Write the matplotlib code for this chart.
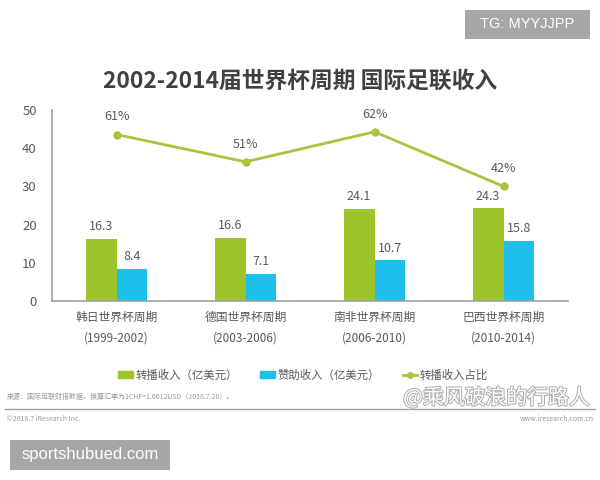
import matplotlib
matplotlib.use("Agg")
import matplotlib.pyplot as plt
import matplotlib.patheffects as pe
from matplotlib.patches import Patch, Rectangle
from matplotlib.lines import Line2D
import numpy as np

plt.rcParams['font.family'] = ['Noto Sans CJK SC', 'DejaVu Sans']

categories = ["韩日世界杯周期\n(1999-2002)", "德国世界杯周期\n(2003-2006)",
              "南非世界杯周期\n(2006-2010)", "巴西世界杯周期\n(2010-2014)"]
broadcast = [16.3, 16.6, 24.1, 24.3]
sponsor = [8.4, 7.1, 10.7, 15.8]
share = [0.61, 0.51, 0.62, 0.42]
share_labels = ["61%", "51%", "62%", "42%"]
yticks = [0, 10, 20, 30, 40, 50]

green = "#9DC52B"
blue = "#1DC0EA"
linec = "#A9C43E"
txt = "#595959"

W, H = 600, 480
fig = plt.figure(figsize=(6, 4.8), dpi=100)
ax = fig.add_axes([0.0867, 0.3729, 0.86, 0.398])
x = np.arange(len(categories))
w = 0.24
b1 = ax.bar(x - w / 2, broadcast, w, color=green)
b2 = ax.bar(x + w / 2, sponsor, w, color=blue)
for rect, v in zip(list(b1) + list(b2), broadcast + sponsor):
    ax.annotate(f"{v}", (rect.get_x() + rect.get_width() / 2, rect.get_height()),
                xytext=(0, 4), textcoords="offset points", ha="center", va="bottom",
                fontsize=9, color=txt)
ax.set_xlim(-0.5, 3.5)
ax.set_ylim(0, 50)
ax.set_yticks(yticks)
ax.set_xticks(x)
ax.set_xticklabels(categories, linespacing=1.75, fontsize=8.5)
ax.tick_params(axis="both", length=0, colors=txt)
ax.tick_params(axis="y", pad=11, labelsize=9.5)
ax.tick_params(axis="x", pad=7)
for s in ["top", "right"]:
    ax.spines[s].set_visible(False)
for s in ["left", "bottom"]:
    ax.spines[s].set_color("#A0A0A0")
    ax.spines[s].set_linewidth(1.2)

ax2 = ax.twinx()
ax2.set_ylim(0, 0.7)
ax2.axis("off")
ax2.plot(x, share, color=linec, lw=2, marker="o", markersize=5)
for xi, v, lab in zip(x, share, share_labels):
    ax2.annotate(lab, (xi, v), xytext=(0, 8), textcoords="offset points",
                 ha="center", va="bottom", fontsize=9, color=txt)

fig.text(300 / W, 1 - 81 / H, "2002-2014届世界杯周期 国际足联收入", ha="center", va="center",
         fontsize=16.4, fontweight="bold", color="#404040")

handles = [Patch(color=green), Patch(color=blue),
           Line2D([0], [0], color=linec, lw=2, marker="o", markersize=4)]
labels = ["转播收入（亿美元）", "赞助收入（亿美元）", "转播收入占比"]
leg = fig.legend(handles, labels, loc="center", bbox_to_anchor=(303 / W, 1 - 375 / H), ncol=3,
                 frameon=False, fontsize=8.2, handlelength=1.3, handleheight=0.5,
                 handletextpad=0.2, columnspacing=2.0)
for t in leg.get_texts():
    t.set_color(txt)

fig.text(0.012, 1 - 397 / H, "来源：国际足联财报数据，换算汇率为1CHF=1.0012USD（2018.7.20）。",
         fontsize=5, color="#9a9a9a", va="center")
fig.add_artist(Line2D([0.008, 0.992], [1 - 409 / H, 1 - 409 / H], color="#a0a0a0", lw=1))
fig.text(0.012, 1 - 419 / H, "©2018.7 iResearch Inc.", fontsize=5, color="#9a9a9a", va="center")
fig.text(0.99, 1 - 419 / H, "www.iresearch.com.cn", fontsize=5, color="#9a9a9a", va="center", ha="right")
fig.text(590 / W, 1 - 398 / H, "@乘风破浪的行路人", fontsize=15, color="white", ha="right", va="center",
         path_effects=[pe.withStroke(linewidth=1.5, foreground="#b0b0b0")])

fig.add_artist(Rectangle((465 / W, 1 - 39 / H), 125 / W, 29 / H, transform=fig.transFigure,
                         fc="#A6A6A6", ec="none"))
fig.text(527.5 / W, 1 - 24.5 / H, "TG: MYYJJPP", fontsize=10.5, color="white", ha="center",
         va="center", family="Liberation Sans")
fig.add_artist(Rectangle((10 / W, 1 - 470 / H), 160 / W, 30 / H, transform=fig.transFigure,
                         fc="#A6A6A6", ec="none"))
fig.text(90 / W, 1 - 455 / H, "sportshubued.com", fontsize=12, color="white", ha="center",
         va="center", family="Liberation Sans")

fig.savefig("out.png", dpi=100, facecolor="white")
